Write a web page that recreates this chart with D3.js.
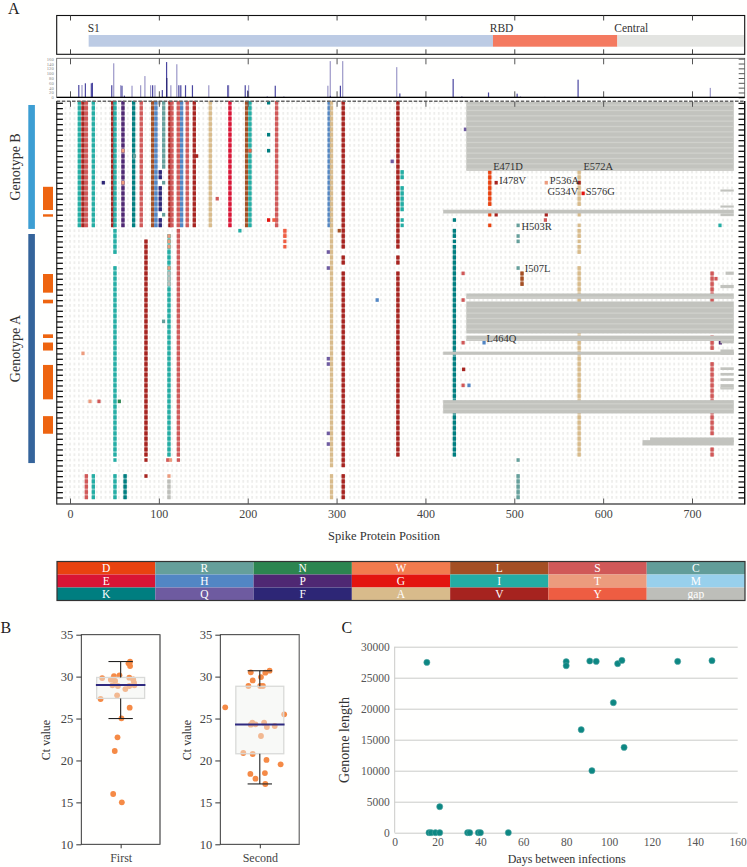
<!DOCTYPE html>
<html><head><meta charset="utf-8">
<script src="https://cdnjs.cloudflare.com/ajax/libs/d3/7.8.5/d3.min.js"></script>
<style>html,body{margin:0;padding:0;background:#fffffe}svg{display:block}text{font-family:"Liberation Serif",serif}</style>
</head><body><div id="chart"></div>
<script>
// ---------- amino acid legend ----------
const aaRows = [["D","R","N","W","L","S","C"],["E","H","P","G","I","T","M"],["K","Q","F","A","V","Y","gap"]];
const aaColor = {D:"#e9420f",R:"#659f9b",N:"#2c8550",W:"#f27b4e",L:"#a44f24",S:"#d05858",C:"#629d99",
 E:"#d91435",H:"#5286c4",P:"#4f2873",G:"#e3140f",I:"#24ada4",T:"#ec9b7d",M:"#98d0ec",
 K:"#007e80",Q:"#6e5ba0",F:"#2d2676",A:"#d8bb8b",V:"#a6231f",Y:"#ee5d42",gap:"#bdbeb9"};
// ---------- spike domains ----------
const domainNames = ["S1","RBD","Central"];
const domainStart = [21,476,616];
const domainEnd = [476,616,759];
const domainLabelAt = [19.9,472.4,612.6];
const domainColors = ["#bccbe4","#f47a60","#e3e4e1"];
// ---------- track ----------
const trackTicks = [0,20,40,60,80,100,120,140,160];
const trackPale = [[13.5,51],[49.2,141],[57,50],[69.8,48],[79.5,50],[84.3,88],[90.7,50],[95.6,50],[113.5,50],[120.2,137],[156.2,50],[178.5,50],[201,50],[222,5],[240.7,4],[290.2,48],[292.9,150],[306.9,150],[367.7,125],[441,5],[507,4],[534.3,2],[720.6,39]];
const trackDark = [[9.9,51],[17.3,58],[24,58],[25.2,60],[47,50],[58.5,48],[61.2,7],[93,50],[103.9,30],[108.7,146],[122.5,50],[124.7,50],[130,50],[137.8,50],[177.6,50],[197.2,50],[199.9,28],[231,48],[293,6],[304.3,48],[371.2,16],[431.2,76],[471,20],[503.2,15],[571.8,73]];
const trackDarker = [[108.9,80]];
// ---------- matrix: [position, residue, first row, last row] ----------
const genotypeBMarks = [
 [10.5,"I",0,23],[14.6,"V",0,23],[18.4,"S",0,23],[26.3,"I",0,23],[48,"V",0,23],[50.6,"I",0,23],
 [59.6,"P",0,23],[59.6,"T",9,9],[59.6,"T",15,15],[71.6,"K",0,23],[72.5,"R",10,10],[80.2,"S",0,23],
 [93,"L",0,23],[96.7,"H",0,23],[100.5,"gap",0,0],[101.6,"F",13,14],[101.6,"F",16,20],[101.6,"F",22,23],
 [105.4,"R",0,12],[105.4,"R",15,15],[105.4,"R",21,21],[112.5,"V",0,23],[114.7,"S",0,23],[121.9,"S",0,23],
 [125.6,"H",0,23],[132,"S",0,23],[139.9,"V",0,23],[142.5,"V",10,10],[157.9,"A",0,23],[180,"E",0,23],
 [198.7,"L",0,23],[202.5,"I",0,23],[202.5,"Y",9,9],[223.5,"K",0,0],[223.5,"K",6,6],[223.5,"K",9,9],
 [223.5,"G",22,22],[232.5,"S",0,23],[229.5,"Y",22,22],[37.5,"F",15,15],[165.7,"S",18,18],[362.6,"Q",11,11],
 [291.7,"H",0,23],[373.8,"I",13,14],[373.8,"I",16,20],[373.8,"I",22,22],[373.8,"I",23,23]
];
const allRowMarks = [
 [294.3,"A",0,68],[294.3,"A",70,74],[307.5,"V",0,27],[307.5,"V",29,30],[307.5,"V",32,68],[307.5,"V",70,74],
 [369,"V",0,27],[369,"V",29,30],[369,"V",32,66]
];
const genotypeAMarks = [
 [50.6,"I",24,28],[50.6,"I",31,66],[50.6,"I",67,67],[50.6,"I",70,74],[85.5,"V",26,66],[85.5,"V",67,67],[85.5,"V",70,70],
 [111.4,"I",25,66],[111.4,"T",25,25],[111.4,"T",26,26],[111.4,"T",27,27],[111.4,"T",31,31],[111.4,"gap",32,34],
 [110,"S",67,67],[113,"T",67,67],[111.4,"T",70,70],[111.4,"gap",71,74],[122,"S",24,66],[122,"S",67,67],
 [241.8,"Y",24,25],[241.8,"Y",26,26],[241.8,"Y",27,27],[191.2,"I",24,24],[303,"L",24,24],
 [290.7,"Q",28,28],[290.7,"Q",31,31],[290.7,"Q",48,48],[290.7,"Q",49,49],[290.7,"Q",62,62],[290.7,"Q",64,64],
 [345.7,"H",37,37],[105.3,"R",41,41],[14.6,"T",47,47],[22.5,"T",56,56],[32.6,"S",56,56],[55.5,"N",56,56],
 [18.4,"S",70,74],[26.3,"I",70,74],[62,"K",70,74]
];
const rightMarks = [
 [432.6,"K",22,22],[432.6,"K",24,25],[432.6,"K",26,26],[432.6,"K",27,66],
 [472.4,"D",13,19],[472.4,"D",21,21],[472.4,"D",23,23],
 [479.6,"V",15,15],[479.6,"V",21,21],[536,"T",15,15],[536,"V",21,21],[535,"S",22,22],
 [573,"A",13,19],[573,"A",21,21],[573,"A",23,23],[573,"A",24,25],[573,"A",26,26],[573,"A",27,28],[573,"A",31,66],
 [573,"V",15,15],[577.5,"G",17,17],
 [504.3,"R",23,23],[504.3,"R",25,25],[504.3,"R",26,26],[504.3,"R",31,31],[504.3,"R",67,67],[504.3,"R",70,74],
 [508.7,"L",32,34],[442.4,"S",32,32],[442.4,"S",37,37],[442.4,"S",45,45],[443,"V",50,50],[442.4,"S",53,53],[449,"H",53,53],
 [466,"H",45,45],[445,"Q",5,5],[731.5,"I",23,23],
 [722.6,"S",32,37],[727,"S",33,33],[722.6,"S",44,46],[722.6,"S",49,62],[722.6,"S",65,66],[732,"P",45,45]
];
// blank runs: [position, first row, last row]
const blankRuns = [[50.6,29,30],[50.6,68,69],[307.5,69,69],[294.3,69,69],[101.6,15,15],[101.6,21,21]];
// [first position, last position, top row, bottom row]
const gapBlocks = [
 [446,747,0,12.9],[420,747,20.2,20.9],[732,747,16.4,16.8],[732,747,19.4,19.8],[732,747,20.9,21.4],
 [446,747,35.9,36.9],[446,747,37.4,43.4],[446,747,43.8,44.8],[420,747,46.8,47.4],[420,747,55.9,58.4],
 [652.8,747,62.9,63.8],[644.3,747,63.4,64.4],[737.8,747,31.8,32.4],[732,747,34.3,34.9],[732,747,43.9,45.25],
 [732,747,46.4,47.4],[732,747,49.75,50.25],[732,747,50.8,51.3],[732,747,51.8,52.3],[732,747,52.9,53.9]
];
const mutationLabels = [["E471D",476.2,12.75],["E572A",577.8,12.75],["I478V",483,15.4],["P536A",540,15.4],["G534V",537.3,17.44],["S576G",580.4,17.44],["H503R",508,24],["I507L",511.8,31.8],["L464Q",468.7,45.06]];
const genotypeBars = [["Genotype B",0.56,23.8,"#3d9ed3"],["Genotype A",24.75,67.7,"#35649b"]];
const orangeBars = [[15.9,20.25],[21.05,21.5],[32.25,35.75],[37.07,37.75],[43.56,44.25],[45.1,46.6],[49.3,55.75],[58.9,62.2]];
const positionTicks = [0,100,200,300,400,500,600,700];
// ---------- panel B ----------
const ctTicks = [10,15,20,25,30,35];
const firstCt = [31.78,31.58,31.26,29.83,30.07,30.15,29.63,29.48,29.87,29.67,28.96,28.88,28.52,28.88,28.96,29.28,27.77,27.33,26.3,25.02,22.76,21.13,16,15.01];
const firstJitter = [.24,.2,.24,-.47,-.17,-.03,-.25,-.14,.22,.32,-.21,-.07,.12,.22,.35,.34,-.09,-.51,.23,.02,-.08,-.15,-.19,.03];
const secondCt = [30.71,30.47,30.51,29.55,29.95,28.88,28.88,28.88,26.34,25.5,24.51,24.27,24.31,24.51,23.99,24.11,22.92,20.89,20.77,20.06,19.54,18.39,18.5,17.83,17.19];
const secondJitter = [.25,.14,-.23,-.18,.03,-.29,.01,.08,-.88,.62,-.19,-.23,-.11,.11,.18,.38,.03,-.42,-.18,.17,.53,-.24,.13,-.11,.14];
const firstBox = {name:"First",q1:27.4,med:29,q3:29.9,lo:25,hi:31.8};
const secondBox = {name:"Second",q1:20.8,med:24.3,q3:28.85,lo:17.2,hi:30.7};
// ---------- panel C ----------
const days = [15,80,80,91,94,104,106,132,148,102,87,107,92,21,16,17,19,21,34,35,39,40,53];
const genomeLength = [27470,27580,26930,27690,27630,27260,27790,27630,27740,20970,16610,13760,10000,4190,0,0,0,0,0,0,0,0,0];
const dayTicks = [0,20,40,60,80,100,120,140,160];
const lengthTicks = [0,5000,10000,15000,20000,25000,30000];

const svg = d3.select("#chart").append("svg").attr("width",747).attr("height",867);
svg.append("rect").attr("width",747).attr("height",867).attr("fill","#fffffe");
const x = d3.scaleLinear().domain([0,700]).range([70,692]);
const row = d3.scaleLinear().domain([0,75]).range([102,502]);
const L=56.7,R=744.7;

function panelLetter(t,px,py){svg.append("text").attr("x",px).attr("y",py).attr("font-size",16).attr("fill","#222").text(t);}
panelLetter("A",8,14);panelLetter("B",0.5,633);panelLetter("C",341.5,633);

// domain panel
const dom = svg.append("g");
domainNames.forEach((n,i)=>{
 dom.append("rect").attr("x",x(domainStart[i])).attr("y",35).attr("width",Math.min(x(domainEnd[i]),744)-x(domainStart[i])).attr("height",11.7).attr("fill",domainColors[i]);
 dom.append("text").attr("x",x(domainLabelAt[i])).attr("y",31.6).attr("font-size",11.5).attr("fill","#333").text(n);
});
function frame(t,b,stroke,w){svg.append("rect").attr("x",L).attr("y",t).attr("width",R-L).attr("height",b-t).attr("fill","none").attr("stroke",stroke).attr("stroke-width",w);}
function innerTicks(t,b,len,col){
 for(const [y,gen] of [[t,d3.axisBottom(x)],[b,d3.axisTop(x)]]){
  const g=svg.append("g").attr("transform",`translate(0,${y})`).call(gen.tickValues(positionTicks).tickSize(len).tickFormat(""));
  g.select(".domain").remove();g.selectAll("line").attr("stroke",col).attr("stroke-width",1);
 }
}
frame(15.5,54.3,"#111",1.1);
innerTicks(15.5,54.3,5,"#444");

// track panel
const ty = d3.scaleLinear().domain([0,160]).range([97.3,58.7]);
const tk = svg.append("g");
const drawTrack=(arr,c)=>tk.selectAll(null).data(arr).enter().append("rect").attr("x",d=>x(d[0])-.6).attr("width",1.2).attr("y",d=>ty(d[1])).attr("height",d=>ty(0)-ty(d[1])).attr("fill",c);
drawTrack(trackPale,"#9c98c8");drawTrack(trackDark,"#4a46a0");drawTrack(trackDarker,"#2a2672");
innerTicks(58.3,97.3,6,"#555");
const tl = svg.append("g").attr("transform",`translate(${L},0)`).call(d3.axisLeft(ty).tickValues(trackTicks).tickSize(0).tickPadding(3));
tl.select(".domain").remove();tl.selectAll("text").attr("font-size",4.6).attr("fill","#888");
const tr = svg.append("g").attr("transform",`translate(${R},0)`).call(d3.axisLeft(ty).tickValues(trackTicks).tickSize(6).tickFormat(""));
tr.select(".domain").remove();tr.selectAll("line").attr("stroke","#555");
svg.append("rect").attr("x",L).attr("y",58.3).attr("width",R-L).attr("height",39).attr("fill","none").attr("stroke","#555").attr("stroke-width",.8);
svg.append("line").attr("x1",L).attr("x2",R).attr("y1",97.3).attr("y2",97.3).attr("stroke","#000").attr("stroke-width",1.3);

// matrix
const CELL=3.6, OFF=-1.1;
const gridP=d3.range(-5,750,5), gridR=d3.range(0,75);
const mx=svg.append("g");
const dots=[];gridR.forEach(r=>gridP.forEach(p=>dots.push([p,r])));
mx.selectAll(null).data(dots).enter().append("rect").attr("x",d=>x(d[0])-.9).attr("y",d=>row(d[1])+OFF+.4).attr("width",1.8).attr("height",2.8).attr("fill","#eeeeec");
blankRuns.forEach(b=>mx.append("rect").attr("x",x(b[0])-3).attr("width",6).attr("y",row(b[1])+OFF).attr("height",row(b[2]+1)-row(b[1])).attr("fill","#fffffe"));
const marks=[...genotypeBMarks,...allRowMarks,...genotypeAMarks,...rightMarks];
marks.forEach(m=>{
 if(m[3]>m[2]) mx.append("rect").attr("x",x(m[0])-1.6).attr("y",row(m[2])+OFF).attr("width",3.2).attr("height",row(m[3])-row(m[2])+CELL).attr("fill",aaColor[m[1]]).attr("fill-opacity",.62);
 d3.range(m[2],m[3]+1).forEach(r=>{
  mx.append("rect").attr("x",x(m[0])-1.6).attr("y",row(r)+OFF).attr("width",3.2).attr("height",CELL).attr("fill",aaColor[m[1]]);
 });
});
gapBlocks.forEach(g=>{
 const t=row(g[2]),b=row(g[3]);
 mx.append("rect").attr("x",x(g[0])).attr("y",t).attr("width",x(g[1])-x(g[0])).attr("height",b-t).attr("fill","#c2c3be");
 d3.range(Math.ceil(g[2]),Math.floor(g[3])+1).forEach(r=>{
  const yy=row(r)+OFF+CELL;
  if(yy>t+1&&yy+1.2<b-.5) mx.append("rect").attr("x",x(g[0])).attr("y",yy).attr("width",x(g[1])-x(g[0])).attr("height",1.3).attr("fill","#d0d1cc");
 });
});
// axes of matrix
svg.append("line").attr("x1",L).attr("x2",R).attr("y1",101.3).attr("y2",101.3).attr("stroke","#666").attr("stroke-width",1.4).attr("stroke-dasharray","3.5 1.6");
svg.append("line").attr("x1",L).attr("x2",R).attr("y1",504).attr("y2",504).attr("stroke","#555").attr("stroke-width",1.4);
svg.append("line").attr("x1",L).attr("x2",L).attr("y1",101).attr("y2",504.5).attr("stroke","#444").attr("stroke-width",1.4);
svg.append("line").attr("x1",R).attr("x2",R).attr("y1",101).attr("y2",504.5).attr("stroke","#111").attr("stroke-width",1.4);
innerTicks(101.3,504,5.5,"#555");
const rowTick=d3.scaleLinear().domain([0,75]).range([row(0)+.8,row(75)+.8]);
[[L,d3.axisRight],[R,d3.axisLeft]].forEach(([px,gen])=>{
 const g=svg.append("g").attr("transform",`translate(${px},0)`).call(gen(rowTick).tickValues(gridR).tickSize(6.2).tickFormat(""));
 g.select(".domain").remove();g.selectAll("line").attr("stroke","#111").attr("stroke-width",1.3);
});
mutationLabels.forEach(d=>mx.append("text").attr("x",x(d[1])).attr("y",row(d[2])).attr("font-size",10.5).attr("fill","#333").text(d[0]));
const xl=svg.append("g").attr("transform","translate(0,504)").call(d3.axisBottom(x).tickValues(positionTicks).tickSize(0).tickPadding(5));
xl.select(".domain").remove();xl.selectAll("text").attr("font-size",12).attr("fill","#444").attr("font-family","Liberation Serif");
svg.append("text").attr("x",384).attr("y",540).attr("text-anchor","middle").attr("font-size",12.5).attr("fill","#333").text("Spike Protein Position");

// side bars
genotypeBars.forEach(b=>{
 svg.append("rect").attr("x",28.3).attr("width",6.6).attr("y",row(b[1])).attr("height",row(b[2])-row(b[1])).attr("fill",b[3]);
 const cy=(row(b[1])+row(b[2]))/2;
 svg.append("text").attr("transform",`translate(19.5,${cy}) rotate(-90)`).attr("text-anchor","middle").attr("font-size",14).attr("fill","#333").text(b[0]);
});
svg.selectAll(null).data(orangeBars).enter().append("rect").attr("x",43).attr("width",10).attr("y",d=>row(d[0])).attr("height",d=>row(d[1])-row(d[0])).attr("fill","#ee6410");

// legend
const lx=d3.scaleBand().domain(d3.range(7)).range([57,745]);
const ly=d3.scaleBand().domain(d3.range(3)).range([561.5,600.5]);
aaRows.forEach((rw,j)=>rw.forEach((a,i)=>{
 svg.append("rect").attr("x",lx(i)).attr("y",ly(j)).attr("width",lx.bandwidth()).attr("height",ly.bandwidth()).attr("fill",aaColor[a]);
 svg.append("text").attr("x",lx(i)+lx.bandwidth()/2).attr("y",ly(j)+ly.bandwidth()/2+3.8).attr("text-anchor","middle").attr("font-size",11.5).attr("fill","#fff").text(a);
}));
svg.append("rect").attr("x",57).attr("y",561.5).attr("width",688).attr("height",39).attr("fill","none").attr("stroke","#333").attr("stroke-width",1.2);

// panel B
const ctY=d3.scaleLinear().domain([10,35]).range([844.3,634.7]);
function boxPanel(x0,x1,box,vals,jit,labelX){
 const cx=(x0+x1)/2, jx=d3.scaleLinear().domain([-1,1]).range([cx-39.3,cx+39.3]);
 const g=svg.append("g");
 g.selectAll(null).data(vals).enter().append("circle").attr("cx",(d,i)=>jx(jit[i])).attr("cy",d=>ctY(d)).attr("r",2.9).attr("fill","#f58a46");
 g.append("rect").attr("x",jx(-.61)).attr("width",jx(.61)-jx(-.61)).attr("y",ctY(box.q3)).attr("height",ctY(box.q1)-ctY(box.q3)).attr("fill","#eff1ef").attr("fill-opacity",.45).attr("stroke","#d9dad8").attr("stroke-width",1.3);
 const ink2="#222";
 g.append("line").attr("x1",cx).attr("x2",cx).attr("y1",ctY(box.hi)).attr("y2",ctY(box.q3)).attr("stroke",ink2).attr("stroke-width",1.1);
 g.append("line").attr("x1",cx).attr("x2",cx).attr("y1",ctY(box.q1)).attr("y2",ctY(box.lo)).attr("stroke",ink2).attr("stroke-width",1.1);
 [box.hi,box.lo].forEach(v=>g.append("line").attr("x1",jx(-.31)).attr("x2",jx(.31)).attr("y1",ctY(v)).attr("y2",ctY(v)).attr("stroke",ink2).attr("stroke-width",1.1));
 g.append("line").attr("x1",jx(-.63)).attr("x2",jx(.63)).attr("y1",ctY(box.med)).attr("y2",ctY(box.med)).attr("stroke","#2f2a80").attr("stroke-width",2);
 g.append("rect").attr("x",x0).attr("y",634.7).attr("width",x1-x0).attr("height",209.6).attr("fill","none").attr("stroke","#222").attr("stroke-width",.9);
 g.append("line").attr("x1",x1).attr("x2",x1).attr("y1",634.7).attr("y2",844.3).attr("stroke","#888").attr("stroke-width",1.2);
 const a=svg.append("g").attr("transform",`translate(${x0},0)`).call(d3.axisLeft(ctY).tickValues(ctTicks).tickSize(5).tickPadding(3));
 a.select(".domain").remove();a.selectAll("line").attr("stroke","#333");a.selectAll("text").attr("font-size",12.5).attr("fill","#444").attr("font-family","Liberation Serif");
 const bx=d3.scalePoint().domain([box.name]).range([cx,cx]);
 const b=svg.append("g").attr("transform","translate(0,844.3)").call(d3.axisBottom(bx).tickSize(4).tickPadding(5));
 b.select(".domain").remove();b.selectAll("line").attr("stroke","#333");b.selectAll("text").attr("font-size",12).attr("fill","#444").attr("font-family","Liberation Serif");
 svg.append("text").attr("transform",`translate(${labelX},740) rotate(-90)`).attr("text-anchor","middle").attr("font-size",12).attr("fill","#333").text("Ct value");
}
boxPanel(81.3,160,firstBox,firstCt,firstJitter,50);
boxPanel(220.3,299.3,secondBox,secondCt,secondJitter,190.5);

// panel C
const dx=d3.scaleLinear().domain([0,160]).range([394.7,737.7]);
const ly2=d3.scaleLinear().domain([0,30000]).range([832.7,646.7]);
const cy=svg.append("g").attr("transform","translate(394.7,0)").call(d3.axisLeft(ly2).tickValues(lengthTicks).tickSize(-343).tickPadding(5).tickFormat(d3.format("d")));
cy.selectAll("line").attr("stroke","#cacbc8").attr("stroke-width",1);
cy.select(".domain").attr("stroke","#cacbc8").attr("d","M0,646.7V832.7");
cy.selectAll("text").attr("font-size",11.5).attr("fill","#555").attr("font-family","Liberation Serif");
const cx=svg.append("g").attr("transform","translate(0,832.7)").call(d3.axisBottom(dx).tickValues(dayTicks).tickSize(0).tickPadding(5));
cx.select(".domain").remove();cx.selectAll("text").attr("font-size",11.5).attr("fill","#555").attr("font-family","Liberation Serif");
svg.append("text").attr("transform","translate(348.5,740) rotate(-90)").attr("text-anchor","middle").attr("font-size",14).attr("fill","#333").text("Genome length");
svg.append("text").attr("x",566.7).attr("y",863).attr("text-anchor","middle").attr("font-size",12).attr("fill","#333").text("Days between infections");
svg.selectAll(null).data(days).enter().append("circle").attr("cx",d=>dx(d)).attr("cy",(d,i)=>ly2(genomeLength[i])).attr("r",3.1).attr("fill","#0d8783").attr("stroke","#5aa9a6").attr("stroke-width",.5);
</script></body></html>
